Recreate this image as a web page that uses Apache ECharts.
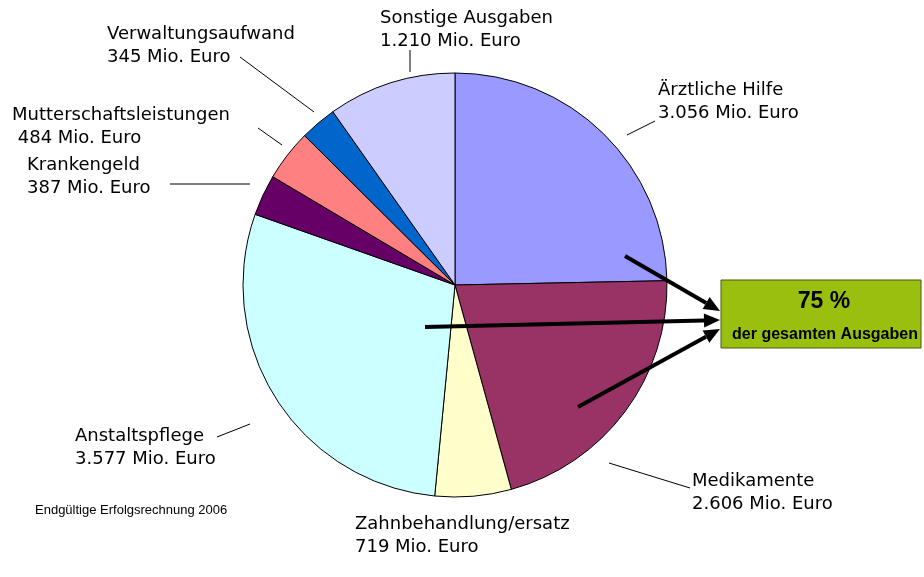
<!DOCTYPE html>
<html>
<head>
<meta charset="utf-8">
<script src="https://cdn.jsdelivr.net/npm/echarts@6/dist/echarts.min.js"></script>
<style>
  html, body { margin: 0; padding: 0; background: #fff; }
  #chart { width: 924px; height: 577px; }
</style>
</head>
<body>
<div id="chart"></div>
<script>
// Ausgaben nach Bereich (Mio. Euro), im Uhrzeigersinn ab 12 Uhr
const categories = [
  "Ärztliche Hilfe",
  "Medikamente",
  "Zahnbehandlung/ersatz",
  "Anstaltspflege",
  "Krankengeld",
  "Mutterschaftsleistungen",
  "Verwaltungsaufwand",
  "Sonstige Ausgaben",
];
const values = [3056, 2606, 719, 3577, 387, 484, 345, 1210];
const valueLabels = ["3.056", "2.606", "719", "3.577", "387", "484", "345", "1.210"];
const colors = ["#9999ff", "#993366", "#ffffcc", "#ccffff", "#660066", "#ff8080", "#0066cc", "#ccccff"];

// Lage der Beschriftungen (links oben) und Führungslinien
const labelPos = [
  { x: 658, y: 79, line: [[627, 135], [655, 121]] },
  { x: 692, y: 470, line: [[609, 463], [690, 488]] },
  { x: 355, y: 513, line: null },
  { x: 75, y: 425, line: [[217, 437], [250, 424]] },
  { x: 27, y: 154, line: [[170, 184], [250, 184]] },
  { x: 12, y: 104, line: [[258, 128], [282, 145]] },
  { x: 107, y: 23, line: [[240, 57], [314, 112]] },
  { x: 380, y: 7, line: [[410, 72], [410, 50]] },
];

const chart = echarts.init(document.getElementById("chart"));

/** Pfeil als Linie + Spitze */
const arrow = (x1, y1, x2, y2) => {
  const ang = Math.atan2(y2 - y1, x2 - x1);
  const len = 16, half = 7;
  const bx = x2 - len * Math.cos(ang), by = y2 - len * Math.sin(ang);
  const px = -Math.sin(ang) * half, py = Math.cos(ang) * half;
  return [
    {
      type: "line",
      shape: { x1: x1, y1: y1, x2: bx, y2: by },
      style: { stroke: "#000", lineWidth: 4 },
      z: 100,
    },
    {
      type: "polygon",
      shape: { points: [[x2, y2], [bx + px, by + py], [bx - px, by - py]] },
      style: { fill: "#000" },
      z: 100,
    },
  ];
};

const option = {
  animation: false,
  series: [
    {
      type: "pie",
      center: [455, 285],
      radius: 212,
      startAngle: 90,
      clockwise: true,
      data: categories.map((name, i) => ({
        name: name,
        value: values[i],
        itemStyle: { color: colors[i] },
      })),
      itemStyle: { borderColor: "#000", borderWidth: 1 },
      emphasis: { disabled: true },
      label: {
        show: true,
        formatter: (p) => {
          const pre = p.dataIndex === 5 ? " " : "";
          return p.name + "\n" + pre + valueLabels[p.dataIndex] + " Mio. Euro";
        },
        fontFamily: "DejaVu Sans",
        fontSize: 18,
        lineHeight: 23,
        color: "#000",
      },
      labelLine: {
        show: true,
        lineStyle: { color: "#000", width: 1 },
      },
      labelLayout: (params) => {
        const pos = labelPos[params.dataIndex];
        const res = { x: pos.x, y: pos.y, align: "left", verticalAlign: "top" };
        if (pos.line) {
          res.labelLinePoints = [pos.line[0], pos.line[1], pos.line[1]];
        } else {
          res.labelLinePoints = [[0, 0], [0, 0], [0, 0]];
        }
        return res;
      },
    },
  ],
  graphic: [
    {
      type: "rect",
      shape: { x: 721, y: 280, width: 200, height: 68 },
      style: { fill: "#99c00f", stroke: "#4a5a10", lineWidth: 1 },
      z: 90,
    },
    {
      type: "text",
      x: 824,
      y: 302,
      style: {
        text: "75 %",
        fontFamily: "Liberation Sans",
        fontWeight: "bold",
        fontSize: 23,
        fill: "#000",
        align: "center",
        verticalAlign: "middle",
      },
      z: 95,
    },
    {
      type: "text",
      x: 825,
      y: 335,
      style: {
        text: "der gesamten Ausgaben",
        fontFamily: "Liberation Sans",
        fontWeight: "bold",
        fontSize: 16,
        fill: "#000",
        align: "center",
        verticalAlign: "middle",
      },
      z: 95,
    },
    ...arrow(625, 256, 720, 311),
    ...arrow(425, 327, 720, 320),
    ...arrow(578, 407, 720, 329),
    {
      type: "text",
      x: 35,
      y: 510,
      style: {
        text: "Endgültige Erfolgsrechnung 2006",
        fontFamily: "Liberation Sans",
        fontSize: 13,
        fill: "#000",
        verticalAlign: "middle",
      },
    },
  ],
};

chart.setOption(option);
</script>
</body>
</html>
